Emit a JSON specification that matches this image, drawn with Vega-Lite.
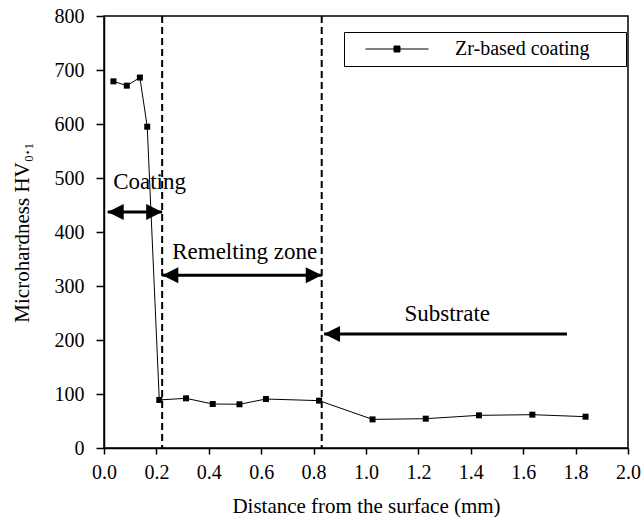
{
  "$schema": "https://vega.github.io/schema/vega-lite/v6.json",
  "width": 524,
  "height": 432,
  "autosize": {"type": "none"},
  "padding": {"left": 104, "top": 16, "right": 16, "bottom": 72},
  "background": "white",
  "config": {
    "font": "'Liberation Serif', 'Times New Roman', 'DejaVu Serif', serif",
    "view": {"stroke": "black", "strokeWidth": 1.5},
    "axis": {
      "domainColor": "black", "domainWidth": 1.5, "tickColor": "black", "tickWidth": 1.5,
      "labelFont": "'Liberation Serif', 'Times New Roman', 'DejaVu Serif', serif", "labelFontSize": 20, "labelColor": "black",
      "titleFont": "'Liberation Serif', 'Times New Roman', 'DejaVu Serif', serif", "titleFontSize": 21, "titleFontWeight": "normal", "titleColor": "black",
      "grid": false
    },
    "text": {"font": "'Liberation Serif', 'Times New Roman', 'DejaVu Serif', serif"},
    "legend": {"labelFont": "'Liberation Serif', 'Times New Roman', 'DejaVu Serif', serif", "labelFontSize": 20, "labelColor": "black", "labelLimit": 400}
  },
  "datasets": {
    "hardness": [
      {"distance": 0.036, "hv": 679, "series": "Zr-based coating"},
      {"distance": 0.087, "hv": 671, "series": "Zr-based coating"},
      {"distance": 0.137, "hv": 686, "series": "Zr-based coating"},
      {"distance": 0.165, "hv": 595, "series": "Zr-based coating"},
      {"distance": 0.211, "hv": 89, "series": "Zr-based coating"},
      {"distance": 0.313, "hv": 92, "series": "Zr-based coating"},
      {"distance": 0.415, "hv": 81.5, "series": "Zr-based coating"},
      {"distance": 0.517, "hv": 81, "series": "Zr-based coating"},
      {"distance": 0.618, "hv": 90.7, "series": "Zr-based coating"},
      {"distance": 0.821, "hv": 87.7, "series": "Zr-based coating"},
      {"distance": 1.025, "hv": 53, "series": "Zr-based coating"},
      {"distance": 1.228, "hv": 54.3, "series": "Zr-based coating"},
      {"distance": 1.431, "hv": 60.5, "series": "Zr-based coating"},
      {"distance": 1.635, "hv": 61.7, "series": "Zr-based coating"},
      {"distance": 1.838, "hv": 58, "series": "Zr-based coating"}
    ],
    "boundaries": [{"bx": 0.222}, {"bx": 0.831}],
    "shafts": [
      {"sx": 0.014, "sx2": 0.222, "sy": 437},
      {"sx": 0.2226, "sx2": 0.831, "sy": 320},
      {"sx": 0.84, "sx2": 1.767, "sy": 211}
    ],
    "heads": [
      {"hx": 0.014, "hy": 437, "dir": "left"},
      {"hx": 0.222, "hy": 437, "dir": "right"},
      {"hx": 0.2226, "hy": 320, "dir": "left"},
      {"hx": 0.831, "hy": 320, "dir": "right"},
      {"hx": 0.84, "hy": 211, "dir": "left"}
    ],
    "labels": [
      {"tx": 0.174, "ty": 493, "text": "Coating"},
      {"tx": 0.537, "ty": 363, "text": "Remelting zone"},
      {"tx": 1.31, "ty": 248, "text": "Substrate"}
    ]
  },
  "layer": [
    {
      "data": {"name": "boundaries"},
      "mark": {"type": "rule", "color": "black", "strokeWidth": 2, "strokeDash": [7, 4]},
      "encoding": {
        "x": {"field": "bx", "type": "quantitative", "scale": {"domain": [0, 2], "nice": false}}
      }
    },
    {
      "data": {"name": "hardness"},
      "mark": {"type": "line", "strokeWidth": 1},
      "encoding": {
        "x": {
          "field": "distance", "type": "quantitative",
          "scale": {"domain": [0, 2], "nice": false},
          "axis": {
            "title": "Distance from the surface (mm)",
            "values": [0, 0.1, 0.2, 0.3, 0.4, 0.5, 0.6, 0.7, 0.8, 0.9, 1.0, 1.1, 1.2, 1.3, 1.4, 1.5, 1.6, 1.7, 1.8, 1.9, 2.0],
            "labelExpr": "round(datum.value*10) % 2 === 0 ? format(datum.value, '.1f') : ''",
            "tickSize": 6,
            "labelPadding": 8,
            "labelFlush": false,
            "labelOverlap": false,
            "titlePadding": 13,
            "encode": {"ticks": {"update": {"y2": {"signal": "round(datum.value*10) % 2 === 0 ? 6 : 4"}}}}
          }
        },
        "y": {
          "field": "hv", "type": "quantitative",
          "scale": {"domain": [0, 800], "nice": false},
          "axis": {
            "title": "Microhardness HV₀.₁",
            "values": [0, 50, 100, 150, 200, 250, 300, 350, 400, 450, 500, 550, 600, 650, 700, 750, 800],
            "labelExpr": "datum.value % 100 === 0 ? datum.label : ''",
            "tickSize": 8,
            "labelPadding": 12,
            "labelFlush": false,
            "labelOverlap": false,
            "titlePadding": 22,
            "encode": {"ticks": {"update": {"x2": {"signal": "datum.value % 100 === 0 ? -8 : -4"}}}}
          }
        },
        "color": {
          "field": "series", "type": "nominal",
          "scale": {"range": ["black"]},
          "legend": {
            "title": null,
            "orient": "none",
            "legendX": 240,
            "legendY": 16,
            "strokeColor": "black",
            "padding": 7,
            "symbolType": "M-1,0L1,0M-0.095,-0.095L0.095,-0.095L0.095,0.095L-0.095,0.095Z",
            "symbolSize": 3969,
            "symbolOffset": 14,
            "symbolFillColor": "black",
            "symbolStrokeColor": "black",
            "symbolStrokeWidth": 1,
            "clipHeight": 20,
            "labelOffset": 26,
            "labelLimit": 400,
            "labelExpr": "datum.label + '\u2800\u2800'"
          }
        }
      }
    },
    {
      "data": {"name": "hardness"},
      "mark": {"type": "point", "shape": "square", "size": 36, "filled": true, "color": "black", "opacity": 1},
      "encoding": {
        "x": {"field": "distance", "type": "quantitative"},
        "y": {"field": "hv", "type": "quantitative"}
      }
    },
    {
      "data": {"name": "shafts"},
      "mark": {"type": "rule", "color": "black", "strokeWidth": 3},
      "encoding": {
        "x": {"field": "sx", "type": "quantitative"},
        "x2": {"field": "sx2"},
        "y": {"field": "sy", "type": "quantitative"}
      }
    },
    {
      "data": {"name": "heads"},
      "mark": {"type": "point", "filled": true, "color": "black", "opacity": 1, "size": 256},
      "encoding": {
        "x": {"field": "hx", "type": "quantitative"},
        "y": {"field": "hy", "type": "quantitative"},
        "shape": {
          "field": "dir", "type": "nominal",
          "scale": {"domain": ["left", "right"], "range": ["M0,0L2,-1L2,1Z", "M0,0L-2,-1L-2,1Z"]},
          "legend": null
        }
      }
    },
    {
      "data": {"name": "labels"},
      "mark": {"type": "text", "fontSize": 23, "color": "black", "align": "center", "baseline": "middle"},
      "encoding": {
        "x": {"field": "tx", "type": "quantitative"},
        "y": {"field": "ty", "type": "quantitative"},
        "text": {"field": "text"}
      }
    }
  ]
}
